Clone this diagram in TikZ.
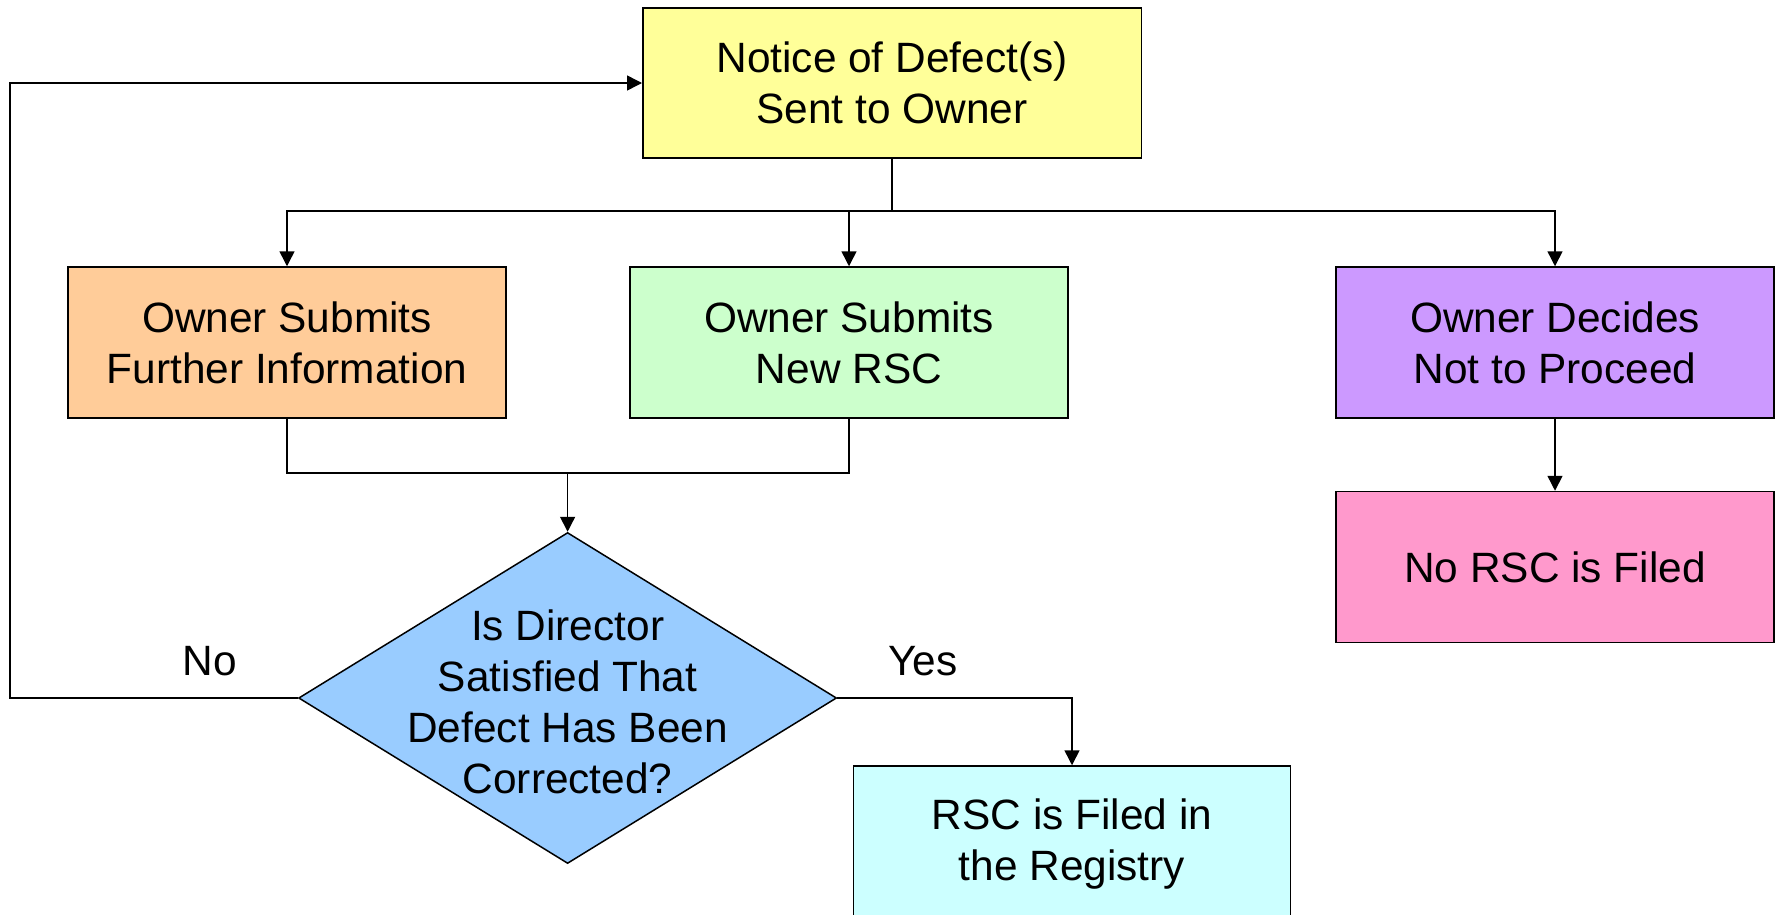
\documentclass[tikz,border=0pt]{standalone}
\usepackage{fontspec}
\setmainfont{Liberation Sans}
\usetikzlibrary{shapes.geometric,arrows.meta}
\definecolor{noticec}{HTML}{FFFF99}
\definecolor{furtherc}{HTML}{FFCC99}
\definecolor{newrscc}{HTML}{CCFFCC}
\definecolor{notprocc}{HTML}{CC99FF}
\definecolor{norscc}{HTML}{FF99CC}
\definecolor{decc}{HTML}{99CCFF}
\definecolor{filedc}{HTML}{CCFFFF}
\tikzset{
  box/.style={draw=black, line width=1.5pt, rectangle, inner sep=0pt, align=center,
    minimum width=438pt, minimum height=151pt,
    font=\fontsize{42.4}{51}\selectfont},
  lbl/.style={inner sep=0pt, font=\fontsize{42.4}{51}\selectfont},
  conn/.style={line width=1.5pt, draw=black},
  arr/.style={conn, -{Triangle[length=15pt,width=15pt]}},
}
\begin{document}
\begin{tikzpicture}[x=1pt,y=-1pt]
\useasboundingbox (0,0) rectangle (1780,914);
% process boxes
\node[box, fill=noticec, minimum width=498.5pt, minimum height=150pt] (notice) at (892,83) {Notice of Defect(s)\\Sent to Owner};
\node[box, fill=furtherc] (further) at (287,342.5) {Owner Submits\\Further Information};
\node[box, fill=newrscc] (newrsc) at (849,342.5) {Owner Submits\\New RSC};
\node[box, fill=notprocc] (notproc) at (1555,342.5) {Owner Decides\\Not to Proceed};
\node[box, fill=norscc] (norsc) at (1555,567) {No RSC is Filed};
\node[box, fill=filedc, minimum width=437pt, minimum height=156pt] (filed) at (1072,844) {RSC is Filed in\\the Registry};
% decision
\node[diamond, draw=black, line width=1.5pt, fill=decc, inner sep=0pt,
  minimum width=538pt, minimum height=331pt] (dec) at (567.6,698) {};
\node[lbl, align=center] (dectext) at (567.6,702) {Is Director\\Satisfied That\\Defect Has Been\\Corrected?};
% branch labels
\node[lbl] (nolbl) at (209.5,661) {No};
\node[lbl] (yeslbl) at (923,661) {Yes};
% junction points
\coordinate (bar) at (892,211);
\coordinate (merge) at (567.6,473);
\coordinate (loopbot) at (10,698);
% connectors
\draw[conn] (notice.south) -- (bar);
\draw[arr] (bar) -| (further.north);
\draw[arr] (bar) -| (newrsc.north);
\draw[arr] (bar) -| (notproc.north);
\draw[conn] (further.south) |- (merge);
\draw[conn] (newrsc.south) |- (merge);
\draw[arr] (merge) -- (dec.north);
\draw[arr] (notproc.south) -- (norsc.north);
\draw[arr] (dec.west) -- (loopbot) |- (notice.west);
\draw[arr] (dec.east) -| (filed.north);
\end{tikzpicture}
\end{document}
